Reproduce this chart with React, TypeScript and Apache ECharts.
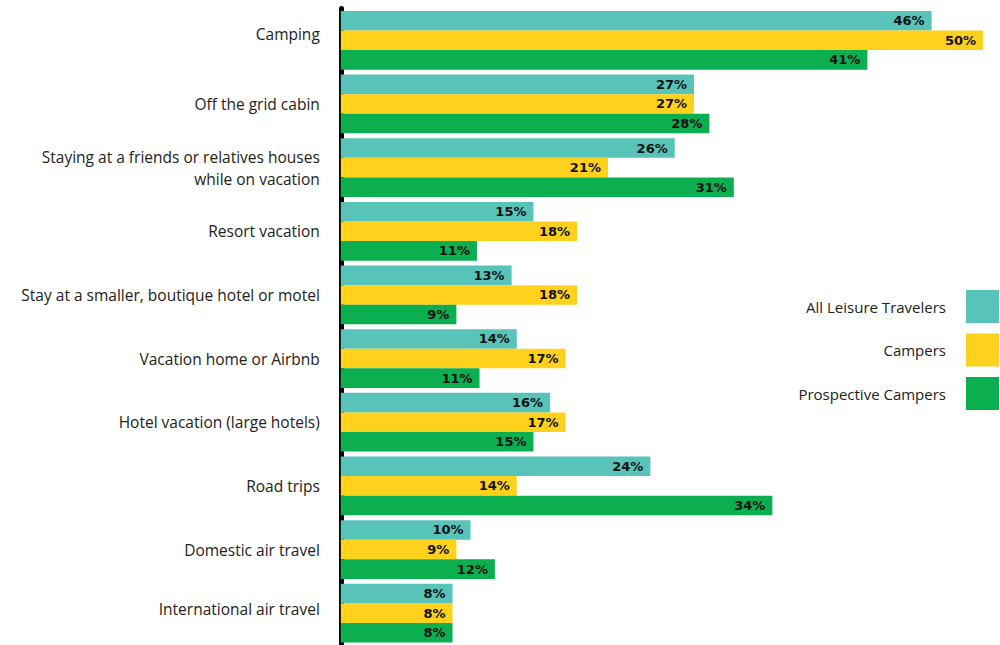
import React, { useEffect, useRef } from "react";
import * as echarts from "echarts";

const categories = [
  "Camping",
  "Off the grid cabin",
  "Staying at a friends or relatives houses\nwhile on vacation",
  "Resort vacation",
  "Stay at a smaller, boutique hotel or motel",
  "Vacation home or Airbnb",
  "Hotel vacation (large hotels)",
  "Road trips",
  "Domestic air travel",
  "International air travel",
];
const seriesNames = ["All Leisure Travelers", "Campers", "Prospective Campers"];

// bar lengths as drawn (percent)
const allLeisure = [46.0, 27.5, 26.0, 15.0, 13.3, 13.7, 16.3, 24.1, 10.1, 8.7];
const campers = [50.0, 27.5, 20.8, 18.4, 18.4, 17.5, 17.5, 13.7, 9.0, 8.7];
const prospective = [41.0, 28.7, 30.6, 10.6, 9.0, 10.8, 15.0, 33.6, 12.0, 8.7];

// printed labels (percent)
const allLeisureLabels = [46, 27, 26, 15, 13, 14, 16, 24, 10, 8];
const campersLabels = [50, 27, 21, 18, 18, 17, 17, 14, 9, 8];
const prospectiveLabels = [41, 28, 31, 11, 9, 11, 15, 34, 12, 8];

const colors = ["#58C3B9", "#FED11C", "#0BAF50"];

export default function App() {
  const ref = useRef<HTMLDivElement>(null);
  useEffect(() => {
    if (!ref.current) return;
    const chart = echarts.init(ref.current, null, { renderer: "svg" });
    const values = [allLeisure, campers, prospective];
    const labels = [allLeisureLabels, campersLabels, prospectiveLabels];
    const catFont = { fontSize: 15.5, color: "#222", fontFamily: "Open Sans", lineHeight: 22 };
    chart.setOption({
      animation: false,
      textStyle: { fontFamily: "Open Sans" },
      grid: { left: 340.8, right: 17, top: 8.5, bottom: -2.5, containLabel: false },
      legend: {
        orient: "vertical",
        right: 1,
        top: 290,
        padding: 0,
        align: "right",
        icon: "rect",
        itemWidth: 33,
        itemHeight: 33,
        itemGap: 10.5,
        data: seriesNames,
        textStyle: { fontSize: 15, color: "#222", fontFamily: "Open Sans", padding: [6, 15, 0, 0] },
      },
      xAxis: {
        type: "value",
        min: 0,
        max: 50,
        show: false,
      },
      yAxis: {
        type: "category",
        data: categories,
        inverse: true,
        axisLine: { show: true, lineStyle: { color: "#000", width: 5 } },
        axisTick: { show: false },
        axisLabel: {
          margin: 21,
          ...catFont,
          align: "right",
          formatter: (v: string, i: number) =>
            i === 0 ? `{up6|${v}}` : i === categories.length - 1 ? `{up4|${v}}` : v,
          rich: {
            up6: { ...catFont, padding: [0, 0, 12, 0] },
            up4: { ...catFont, padding: [0, 0, 8, 0] },
          },
        },
      },
      series: seriesNames.map((name, i) => ({
        name,
        type: "bar",
        data: values[i],
        itemStyle: { color: colors[i] },
        barGap: "0%",
        barCategoryGap: "7.7%",
        z: 1,
        label: {
          show: true,
          position: "insideRight",
          distance: 7,
          formatter: (p: any) => labels[i][p.dataIndex] + "%",
          fontSize: 13,
          fontWeight: "bold",
          color: "#111",
          fontFamily: "DejaVu Sans",
        },
      })),
    });
    return () => chart.dispose();
  }, []);
  return (
    <div
      ref={ref}
      style={{ position: "fixed", left: 0, top: 0, width: 1000, height: 645, background: "#fff" }}
    />
  );
}
